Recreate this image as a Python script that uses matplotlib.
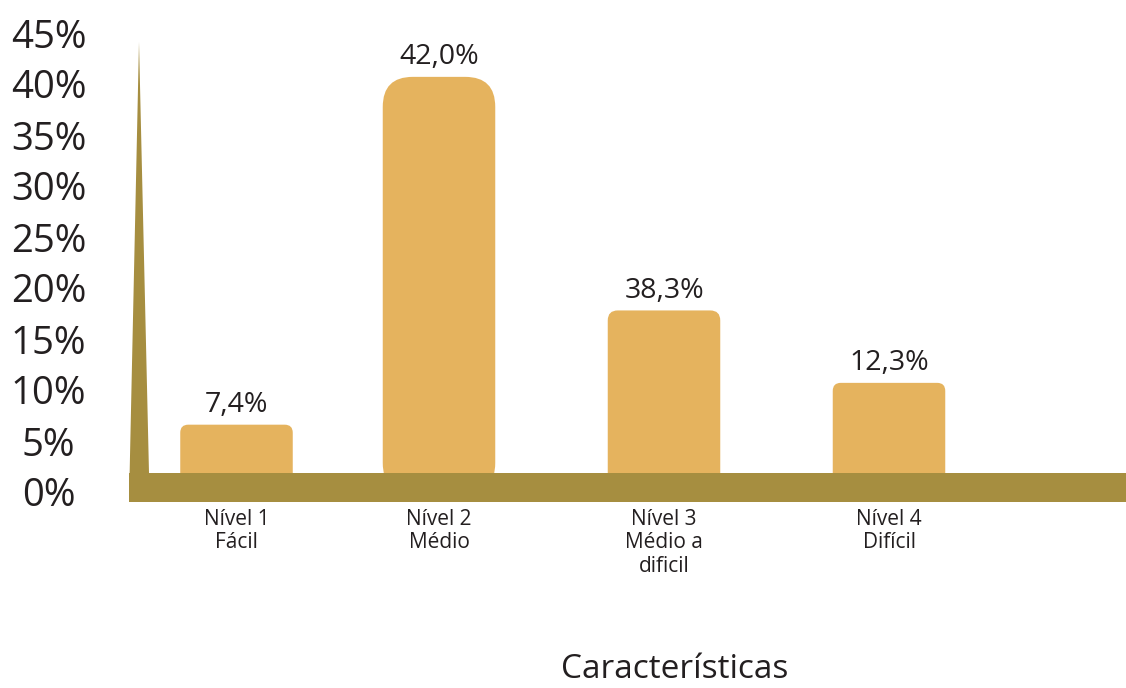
import matplotlib
matplotlib.use("Agg")
import matplotlib.pyplot as plt
from matplotlib.patches import FancyBboxPatch, Polygon

# 数据
categories = ["Nível 1\nFácil", "Nível 2\nMédio", "Nível 3\nMédio a\ndificil", "Nível 4\nDifícil"]
value_labels = ["7,4%", "42,0%", "38,3%", "12,3%"]
# bar tops as drawn in the picture (the drawing does not follow the labels)
bar_tops = [6.6, 40.7, 17.8, 10.7]
y_ticks = [0, 5, 10, 15, 20, 25, 30, 35, 40, 45]
y_tick_labels = [f"{v}%" for v in y_ticks]
x_title = "Características"

# 布局 / 样式
x_pos = [0.1, 1.0, 2.0, 3.0]
bar_width = 0.5
corner_px = [8, 30, 10, 8]
bar_color = "#E5B35E"
floor_color = "#A68E40"
text_color = "#231F20"

plt.rcParams["font.family"] = ["Open Sans", "DejaVu Sans"]

W, H = 1126, 688
fig = plt.figure(figsize=(W / 100, H / 100), dpi=100)

# axes: pixel x 129..1126, pixel y 0..502 (from top)
left_px, right_px, bottom_px = 129, 1126, 502
ax = fig.add_axes([left_px / W, (H - bottom_px) / H, (right_px - left_px) / W, bottom_px / H])

px_per_x = 225.0
px_per_y = 10.2
xlim = (2 + (left_px - 664) / px_per_x, 2 + (right_px - 664) / px_per_x)
ylim = ((492 - bottom_px) / px_per_y, 492 / px_per_y)
ax.set_xlim(*xlim)
ax.set_ylim(*ylim)

floor_bottom = ylim[0]
floor_top = (492 - 473) / px_per_y

# 底座 (drawn over the bar feet)
ax.add_patch(Polygon([(xlim[0], floor_bottom), (xlim[1], floor_bottom),
                      (xlim[1], floor_top), (xlim[0], floor_top)],
                     closed=True, facecolor=floor_color, edgecolor="none", zorder=4))

# 竖直尖刺
dx = 10 / px_per_x
spike_top = (492 - 42) / px_per_y
ax.add_patch(Polygon([(xlim[0], floor_bottom), (xlim[0] + dx, spike_top),
                      (xlim[0] + 2 * dx, floor_top), (xlim[0] + 2 * dx, floor_bottom)],
                     closed=True, facecolor=floor_color, edgecolor="none", zorder=4))

# 圆角柱子
aspect = px_per_x / px_per_y
foot = 20 / px_per_y  # part of the bar hidden under the floor
for x, top, r_px, lab in zip(x_pos, bar_tops, corner_px, value_labels):
    base = floor_top - foot
    patch = FancyBboxPatch((x - bar_width / 2, base), bar_width, top - base,
                           boxstyle=f"round,pad=0,rounding_size={r_px / px_per_x}",
                           mutation_aspect=aspect,
                           facecolor=bar_color, edgecolor="none", zorder=3)
    ax.add_patch(patch)
    ax.annotate(lab, (x, top), xytext=(0, 9), textcoords="offset points",
                ha="center", va="baseline", fontsize=20.5, color=text_color)

# 坐标轴
ax.set_yticks(y_ticks)
ax.set_yticklabels(y_tick_labels, fontsize=27.5, color=text_color)
for t in ax.get_yticklabels():
    t.set_ha("center")
ax.tick_params(axis="y", length=0, pad=58)

ax.set_xticks(x_pos)
ax.set_xticklabels(categories, fontsize=15, color=text_color, linespacing=1.15)
ax.tick_params(axis="x", length=0, pad=5)

ax.set_xlabel(x_title, fontsize=24, color=text_color)
ax.xaxis.set_label_coords((675 - left_px) / (right_px - left_px), -(653 - bottom_px) / bottom_px)

for s in ax.spines.values():
    s.set_visible(False)
ax.set_facecolor("white")

fig.savefig("out.png", dpi=100)
